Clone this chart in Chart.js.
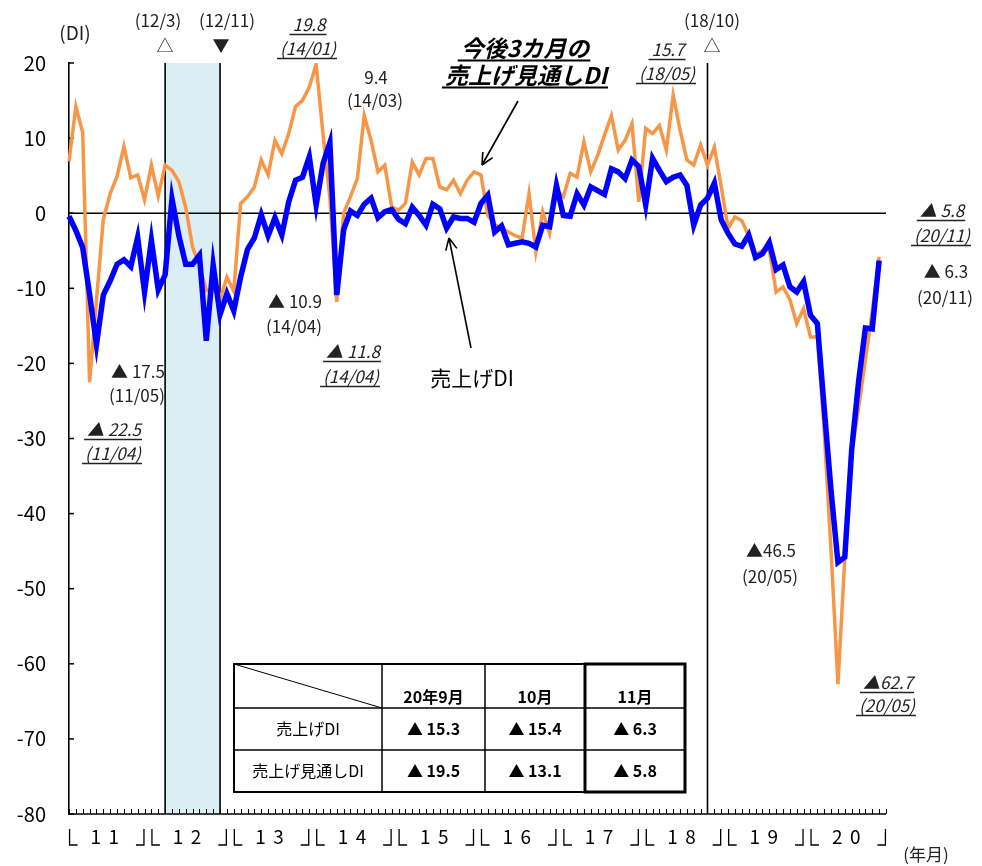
<!DOCTYPE html>
<html lang="ja">
<head>
<meta charset="UTF-8">
<title>売上げDI・売上げ見通しDI</title>
<script src="https://cdn.jsdelivr.net/npm/chart.js"></script>
<style>
  html, body { margin: 0; padding: 0; background: #fff; }
</style>
</head>
<body>
<canvas id="graficoDI" width="982" height="866"></canvas>
<script>
// años del eje (11 = 2011 ... 20 = 2020)
const anios = ['11', '12', '13', '14', '15', '16', '17', '18', '19', '20'];
const numMes = ['01', '02', '03', '04', '05', '06', '07', '08', '09', '10', '11', '12'];
const meses = anios.flatMap(a => numMes.map(m => a + '/' + m));

// 売上げDI (2011/01 - 2020/11)
const ventasDI = [
  -0.4, -2.3, -4.6, -10.8, -17.5, -10.9, -9.0, -6.8, -6.2, -7.1, -3.2, -10.5,
  -3.6, -10.2, -8.2, 1.9, -3.0, -6.8, -6.8, -5.6, -17.0, -6.9, -13.5, -10.7,
  -13.0, -8.5, -4.8, -3.3, -0.2, -3.0, -0.6, -2.9, 1.5, 4.4, 4.8, 7.5,
  1.1, 6.6, 9.4, -10.9, -2.2, 0.3, -0.3, 1.2, 2.0, -0.6, 0.2, 0.5,
  -0.8, -1.4, 0.8, -0.3, -1.6, 1.2, 0.6, -2.0, -0.5, -0.7, -0.7, -1.2,
  1.3, 2.4, -2.5, -1.7, -4.2, -4.0, -3.8, -4.0, -4.5, -1.6, -1.8, 3.7,
  -0.3, -0.4, 2.6, 1.1, 3.5, 3.0, 2.5, 5.9, 5.5, 4.6, 7.1, 6.2,
  1.1, 7.3, 5.7, 4.2, 4.8, 5.1, 3.7, -1.6, 1.1, 2.0, 4.0, -0.9,
  -2.7, -4.1, -4.4, -2.9, -5.9, -5.4, -3.9, -7.5, -6.9, -9.8, -10.5, -9.1,
  -13.6, -14.7, -26.0, -37.0, -46.5, -45.8, -31.5, -22.5, -15.3, -15.4, -6.3
];

// 今後3カ月の売上げ見通しDI
const perspectivaDI = [
  6.9, 14.2, 10.7, -22.5, -11.6, -0.8, 2.6, 4.9, 8.9, 4.7, 5.1, 1.8,
  6.4, 2.3, 6.4, 5.7, 4.2, 0.8, -4.5, -7.0, -10.3, -10.0, -11.5, -8.5,
  -10.4, 1.3, 2.2, 3.5, 7.1, 5.1, 9.7, 7.9, 10.6, 14.2, 15.0, 16.8,
  19.8, 10.5, 2.0, -11.8, 0.0, 2.2, 4.6, 13.0, 9.7, 5.5, 6.4, 0.8,
  0.4, 1.3, 6.8, 5.1, 7.3, 7.3, 3.5, 3.1, 4.4, 2.6, 4.4, 5.5,
  5.1, -0.3, -1.5, -2.0, -2.5, -3.0, -3.3, 2.6, -5.1, 0.2, -2.7, 3.1,
  2.2, 5.3, 4.8, 9.5, 5.5, 7.7, 10.4, 13.0, 8.4, 9.7, 11.9, 1.5,
  11.3, 10.6, 11.7, 8.4, 15.7, 11.1, 7.1, 6.4, 9.1, 6.4, 8.8, 3.5,
  -2.0, -0.5, -1.0, -3.0, -5.5, -5.0, -4.8, -10.5, -9.8, -11.5, -14.7, -12.7,
  -16.5, -16.5, -29.0, -45.0, -62.7, -46.0, -32.0, -26.0, -19.5, -13.1, -5.8
];

// 景気の山・谷
const mesesPico = ['12/03', '18/10'];
const mesesValle = ['12/11'];

// tabla
const tablaColumnas = ['20年9月', '10月', '11月'];
const tablaFilas = ['売上げDI', '売上げ見通しDI'];
const tablaVentas = ['▲ 15.3', '▲ 15.4', '▲ 6.3'];
const tablaPerspectiva = ['▲ 19.5', '▲ 13.1', '▲ 5.8'];

const FUENTE = '"Noto Sans CJK JP", "Noto Sans", sans-serif';

// anotaciones de texto [texto, x, y, cursiva/subrayado]
const notas = [
  ['(12/3)', 158, 21, false], ['△', 165, 46, false],
  ['(12/11)', 227, 21, false], ['▼', 221, 46, false],
  ['19.8', 309, 25, true], ['(14/01)', 308, 49, true],
  ['9.4', 376, 78, false], ['(14/03)', 375, 101, false],
  ['15.7', 668, 50, true], ['(18/05)', 667, 74, true],
  ['(18/10)', 712, 21, false], ['△', 712, 46, false],
  ['▲ 5.8', 942, 211, true], ['(20/11)', 942, 236, true],
  ['▲ 6.3', 946, 272, false], ['(20/11)', 945, 298, false],
  ['▲ 10.9', 295, 302, false], ['(14/04)', 294, 327, false],
  ['▲ 11.8', 353, 352, true], ['(14/04)', 351, 377, true],
  ['▲ 17.5', 138, 372, false], ['(11/05)', 137, 396, false],
  ['▲ 22.5', 114, 430, true], ['(11/04)', 113, 454, true],
  ['▲46.5', 771, 551, false], ['(20/05)', 770, 577, false],
  ['▲62.7', 888, 683, true], ['(20/05)', 887, 706, true],
  ['(年月)', 926, 855, false]
];

function linea(ctx, x1, y1, x2, y2) {
  ctx.beginPath();
  ctx.moveTo(x1, y1);
  ctx.lineTo(x2, y2);
  ctx.stroke();
}

function texto(ctx, s, x, y, op = {}) {
  const size = op.size || 17;
  ctx.font = (op.italic ? 'italic ' : '') + (op.bold ? 'bold ' : '') + size + 'px ' + FUENTE;
  ctx.textAlign = op.align || 'center';
  ctx.textBaseline = 'middle';
  ctx.fillStyle = op.color || '#222';
  ctx.fillText(s, x, y);
  if (op.underline) {
    const w = ctx.measureText(s).width;
    ctx.strokeStyle = ctx.fillStyle;
    ctx.lineWidth = op.ulw || 1.6;
    const uy = Math.round(y + size * 0.5) + 0.5;
    linea(ctx, x - w / 2 - 3, uy, x + w / 2 + 1, uy);
  }
}

function flecha(ctx, x1, y1, x2, y2) {
  linea(ctx, x1, y1, x2, y2);
  const ang = Math.atan2(y2 - y1, x2 - x1);
  const l = 13;
  for (const d of [-0.45, 0.45]) {
    linea(ctx, x2, y2, x2 - l * Math.cos(ang + d), y2 - l * Math.sin(ang + d));
  }
}

const decorado = {
  id: 'decorado',
  beforeDatasetsDraw(chart) {
    const { ctx, chartArea: a, scales: { x, y } } = chart;
    ctx.save();
    // periodo de recesión
    const xa = x.getPixelForValue(meses.indexOf('12/03'));
    const xb = x.getPixelForValue(meses.indexOf('12/11'));
    ctx.fillStyle = '#daeef3';
    ctx.fillRect(xa, a.top, xb - xa, a.bottom - a.top);

    ctx.strokeStyle = '#000';
    ctx.lineWidth = 1.6;
    for (const m of mesesPico.concat(mesesValle)) {
      const px = x.getPixelForValue(meses.indexOf(m));
      linea(ctx, px, a.top, px, a.bottom);
    }
    // línea del cero
    const y0 = y.getPixelForValue(0);
    linea(ctx, a.left, y0, a.right, y0);
    // eje x
    linea(ctx, a.left, a.bottom, a.right, a.bottom);
    ctx.lineWidth = 1;
    for (let i = 0; i < meses.length; i++) {
      const px = Math.round(x.getPixelForValue(i)) + 0.5;
      linea(ctx, px, a.bottom, px, a.bottom - 5);
    }
    ctx.lineWidth = 1.5;
    for (let v = -80; v <= 20; v += 10) {
      const py = y.getPixelForValue(v);
      linea(ctx, a.left, py, a.left + 5, py);
    }
    ctx.restore();
  },
  afterDraw(chart) {
    const { ctx, chartArea: a, scales: { x } } = chart;
    ctx.save();

    // etiquetas de año  └ 1 1 ┘
    ctx.strokeStyle = '#000';
    ctx.lineWidth = 1.3;
    anios.forEach((an, k) => {
      const izq = x.getPixelForValue(12 * k - 0.5) + 4;
      const der = x.getPixelForValue(12 * k + 11.5) - 4;
      const cen = (izq + der) / 2;
      const yy = 837;
      ctx.beginPath();
      ctx.moveTo(izq, 829); ctx.lineTo(izq, 845); ctx.lineTo(izq + 8, 845);
      ctx.moveTo(der, 829); ctx.lineTo(der, 845); ctx.lineTo(der - 8, 845);
      ctx.stroke();
      texto(ctx, an[0], cen - 11, yy, { size: 19, color: '#000' });
      texto(ctx, an[1], cen + 7, yy, { size: 19, color: '#000' });
    });

    // anotaciones
    texto(ctx, '(DI)', 75, 33, { size: 19, color: '#222' });
    for (const [s, nx, ny, cursiva] of notas) {
      texto(ctx, s, nx, ny, { italic: cursiva, underline: cursiva });
    }
    texto(ctx, '今後3カ月の', 525, 48, { size: 23, bold: true, italic: true, underline: true, color: '#000', ulw: 2 });
    texto(ctx, '売上げ見通しDI', 526, 75, { size: 23, bold: true, italic: true, underline: true, color: '#000', ulw: 2 });
    texto(ctx, '売上げDI', 472, 378, { size: 21, color: '#000' });

    ctx.strokeStyle = '#000';
    ctx.lineWidth = 1.6;
    flecha(ctx, 518, 101, 482, 165);
    flecha(ctx, 471, 348, 449, 238);

    // tabla
    const tx = [234, 382, 485, 585, 685];
    const ty = [664, 708, 750, 792];
    ctx.fillStyle = '#fff';
    ctx.fillRect(tx[0], ty[0], tx[4] - tx[0], ty[3] - ty[0]);
    ctx.strokeStyle = '#000';
    ctx.lineWidth = 1.5;
    for (let r = 1; r < ty.length - 1; r++) linea(ctx, tx[0], ty[r], tx[4], ty[r]);
    for (let c = 1; c < tx.length - 1; c++) linea(ctx, tx[c], ty[0], tx[c], ty[3]);
    ctx.lineWidth = 1;
    linea(ctx, tx[0], ty[0], tx[1], ty[1]);
    ctx.lineWidth = 2;
    ctx.strokeRect(tx[0], ty[0], tx[4] - tx[0], ty[3] - ty[0]);
    ctx.lineWidth = 3;
    ctx.strokeRect(tx[3], ty[0], tx[4] - tx[3], ty[3] - ty[0]);

    tablaColumnas.forEach((s, c) => {
      texto(ctx, s, (tx[c + 1] + tx[c + 2]) / 2, 697, { size: 16, bold: true, color: '#000' });
    });
    const filas = [tablaVentas, tablaPerspectiva];
    tablaFilas.forEach((s, r) => {
      const cy = (ty[r + 1] + ty[r + 2]) / 2;
      texto(ctx, s, (tx[0] + tx[1]) / 2, cy, { size: 16, color: '#000' });
      filas[r].forEach((v, c) => {
        texto(ctx, v, (tx[c + 1] + tx[c + 2]) / 2, cy, { size: 16, bold: true, color: '#000' });
      });
    });
    ctx.restore();
  }
};

new Chart(document.getElementById('graficoDI').getContext('2d'), {
  type: 'line',
  data: {
    labels: meses,
    datasets: [
      {
        label: '売上げDI',
        data: ventasDI,
        borderColor: '#0000ff',
        borderWidth: 5.5,
        pointRadius: 0,
        tension: 0,
        fill: false,
        order: 1
      },
      {
        label: '今後3カ月の売上げ見通しDI',
        data: perspectivaDI,
        borderColor: '#f79646',
        borderWidth: 3.5,
        pointRadius: 0,
        tension: 0,
        fill: false,
        order: 2
      }
    ]
  },
  options: {
    responsive: false,
    animation: false,
    layout: { padding: { left: 0, right: 96, top: 63, bottom: 52 } },
    plugins: { legend: { display: false }, tooltip: { enabled: false } },
    scales: {
      x: { type: 'category', display: false, offset: false },
      y: {
        min: -80,
        max: 20,
        afterFit: s => { s.width = 69; },
        grid: { display: false, drawTicks: false },
        border: { display: true, color: '#000', width: 1.6 },
        ticks: {
          stepSize: 10,
          padding: 23,
          color: '#000',
          font: { family: FUENTE, size: 20 }
        }
      }
    }
  },
  plugins: [decorado]
});
</script>
</body>
</html>
